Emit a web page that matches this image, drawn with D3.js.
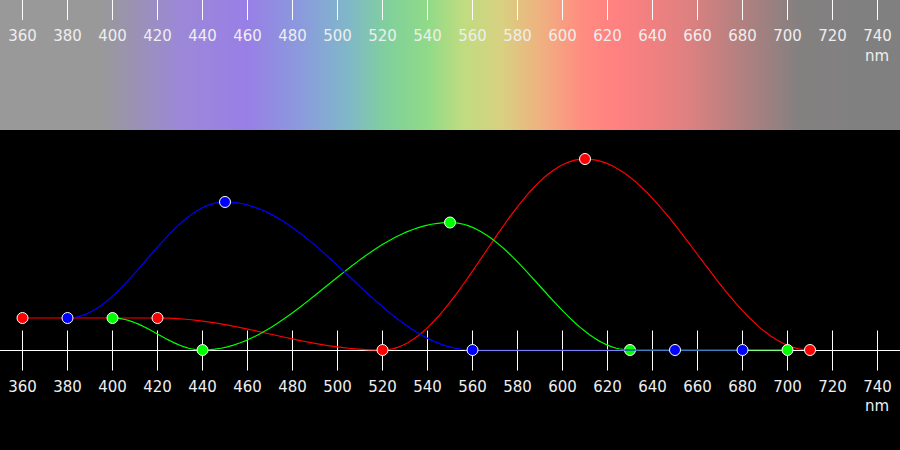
<!DOCTYPE html>
<meta charset="utf-8">
<script src="https://d3js.org/d3.v7.min.js"></script>
<style>
  body { margin: 0; background: #000; }
  text { font-family: "DejaVu Sans", sans-serif; font-size: 15px; fill: #eee; }
</style>
<div id="chart"></div>
<script>

// wavelength ticks
const tickValues = d3.range(360, 741, 20);

// colour band behind the top axis
const bandWavelengths = [360, 395, 430, 460, 485, 505, 522, 540, 556, 573, 591, 609, 625, 640, 655, 672, 690, 705, 740];
const bandColors = ["#999999", "#999999", "#9c88d8", "#987fe6", "#8a9cdc", "#80b8c8", "#80d09c", "#90da88", "#c0dc80", "#d8d080", "#f0b080", "#ff8c80", "#ff8080", "#f08080", "#e08080", "#c08080", "#a08080", "#848080", "#808080"];

// the three response curves (wavelength, response)
const redWl = [360, 420, 520, 610, 710];
const redVal = [0.335, 0.335, 0, 2, 0];
const greenWl = [400, 440, 550, 630, 700];
const greenVal = [0.335, 0, 1.335, 0, 0];
const blueWl = [380, 450, 560, 650, 680];
const blueVal = [0.335, 1.55, 0, 0, 0];

const width = 900, height = 450;
const bandHeight = 130;
const baseY = 350.5;

const x = d3.scaleLinear().domain([360, 740]).range([22.5, 877.5]);
const y = d3.scaleLinear().domain([0, 2]).range([350, 159]);

// cosine easing between consecutive points (flat at every point)
function curveCosine(context) {
    let x0, y0, n;
    return {
        lineStart() { n = 0; },
        lineEnd() {},
        areaStart() {},
        areaEnd() {},
        point(px, py) {
            if (n === 0) {
                context.moveTo(px, py);
            } else {
                const steps = 40;
                for (let i = 1; i <= steps; i++) {
                    const t = i / steps;
                    const e = (1 - Math.cos(Math.PI * t)) / 2;
                    context.lineTo(x0 + (px - x0) * t, y0 + (py - y0) * e);
                }
            }
            x0 = px; y0 = py; n++;
        }
    };
}

const svg = d3.select("#chart").append("svg")
    .attr("width", width)
    .attr("height", height);

svg.append("rect").attr("width", width).attr("height", height).attr("fill", "#000");

// spectrum gradient
const grad = svg.append("defs").append("linearGradient")
    .attr("id", "spectrum")
    .attr("gradientUnits", "userSpaceOnUse")
    .attr("x1", 0).attr("x2", width).attr("y1", 0).attr("y2", 0);

grad.selectAll("stop")
    .data(bandWavelengths)
    .join("stop")
    .attr("offset", d => x(d) / width)
    .attr("stop-color", (d, i) => bandColors[i]);

svg.append("rect")
    .attr("width", width)
    .attr("height", bandHeight)
    .attr("fill", "url(#spectrum)");

// top axis
const topAxis = svg.append("g");
topAxis.selectAll("line")
    .data(tickValues)
    .join("line")
    .attr("x1", d => x(d)).attr("x2", d => x(d))
    .attr("y1", 0).attr("y2", 20)
    .attr("stroke", "#fff");
topAxis.selectAll("text")
    .data(tickValues)
    .join("text")
    .attr("x", d => x(d))
    .attr("y", 41)
    .attr("text-anchor", "middle")
    .text(d => d);
svg.append("text")
    .attr("x", 889).attr("y", 61)
    .attr("text-anchor", "end")
    .text("nm");

// bottom axis
svg.append("line")
    .attr("x1", 0).attr("x2", width)
    .attr("y1", baseY).attr("y2", baseY)
    .attr("stroke", "#fff");
const botAxis = svg.append("g");
botAxis.selectAll("line")
    .data(tickValues)
    .join("line")
    .attr("x1", d => x(d)).attr("x2", d => x(d))
    .attr("y1", baseY - 20).attr("y2", baseY + 20)
    .attr("stroke", "#fff");
botAxis.selectAll("text")
    .data(tickValues)
    .join("text")
    .attr("x", d => x(d))
    .attr("y", 392)
    .attr("text-anchor", "middle")
    .text(d => d);
svg.append("text")
    .attr("x", 889).attr("y", 411)
    .attr("text-anchor", "end")
    .text("nm");

// curves
const line = d3.line()
    .x(d => x(d[0]))
    .y(d => y(d[1]))
    .curve(curveCosine);

const series = [
    {wl: redWl, val: redVal, color: "#ff0000"},
    {wl: greenWl, val: greenVal, color: "#00ff00"},
    {wl: blueWl, val: blueVal, color: "#0000ff"}
];

series.forEach(s => {
    const pts = s.wl.map((w, i) => [w, s.val[i]]);
    const g = svg.append("g");
    g.append("path")
        .datum(pts)
        .attr("d", line)
        .attr("fill", "none")
        .attr("stroke", s.color)
        .attr("stroke-width", 1.2);
    g.selectAll("circle")
        .data(pts)
        .join("circle")
        .attr("cx", d => x(d[0]))
        .attr("cy", d => y(d[1]))
        .attr("r", 5.5)
        .attr("fill", s.color)
        .attr("stroke", "#fff")
        .attr("stroke-width", 1);
});

</script>
